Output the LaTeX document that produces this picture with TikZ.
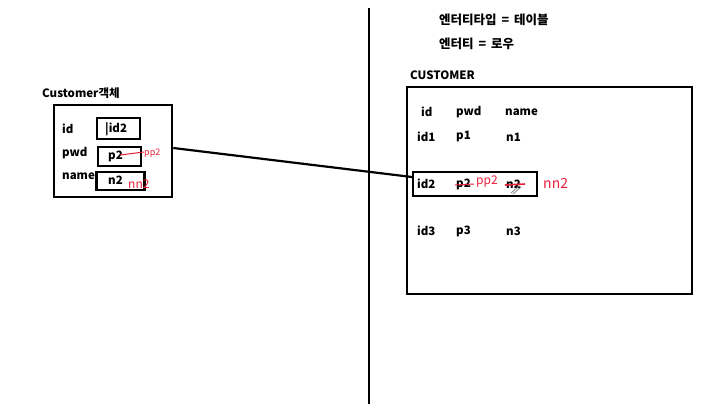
\documentclass[tikz,border=0pt]{standalone}
\usepackage{fontspec}
\setmainfont{Noto Sans CJK KR}
\usetikzlibrary{positioning,calc}
\definecolor{Ink}{HTML}{000000}
\definecolor{Pen}{HTML}{E8203A}
\begin{document}
\begin{tikzpicture}[
  x=1pt,y=-1pt,
  frame/.style={draw=Ink,line width=2.6pt},
  cell/.style={draw=Ink,line width=2.2pt,minimum width=43pt,minimum height=20pt,inner sep=0pt},
  field/.style={anchor=west,inner sep=0pt,font=\fontsize{11.5}{13}\selectfont\bfseries},
  title/.style={anchor=west,inner sep=0pt,font=\fontsize{11.5}{13}\selectfont\bfseries},
  scrawl/.style={anchor=west,inner sep=0pt,text=Pen,font=\fontsize{12}{13}\selectfont\itshape},
  strike/.style={draw=Pen,line width=1pt}
]
\useasboundingbox (0,0) rectangle (711,404);
% divider between object side and table side
\coordinate (divtop) at (369,8);
\coordinate (divbot) at (369,404);
\draw[line width=2.4pt] (divtop)--(divbot);
\node[title,font=\fontsize{12.5}{14}\selectfont\bfseries] (kind) at (439,20) {엔터티타입 \,=\, 테이블};
\node[title,font=\fontsize{12.5}{14}\selectfont\bfseries] (ent) at (439,44) {엔터티 \,=\, 로우};
% object side
\node[title] (objname) at (42,93) {Customer객체};
\node[frame,minimum width=118pt,minimum height=92pt,inner sep=0pt] (obj) at (113,151) {};
\node[field] (fid) at (62,129) {id};
\node[field] (fpwd) at (62,153) {pwd};
\node[field] (fname) at (62,176) {name};
\node[cell,minimum height=21pt] (vid) at (118.5,128.5) {};
\node[field] at (105,129) {|id2};
\node[cell,minimum height=19pt] (vpwd) at (119.5,156.5) {};
\node[field] (vp2) at (108,156) {p2};
\node[cell,minimum width=48pt,minimum height=18pt] (vname) at (120.5,181) {};
\node[field] (vn2) at (108,180) {n2};
\draw[strike] (120,155)--(144,152);
\node[scrawl,font=\fontsize{9}{10}\selectfont\itshape] at (144,153) {pp2};
\node[scrawl] at (128,184) {nn2};
% table side
\node[title] (tname) at (410,75) {CUSTOMER};
\node[frame,minimum width=285pt,minimum height=207pt,inner sep=0pt] (tbl) at (549.5,190.5) {};
\node[field] (hid) at (421,112) {id};
\node[field] (hpwd) at (456,112) {pwd};
\node[field] (hname) at (505,112) {name};
\node[field] (r1id) at (417,137) {id1};
\node[field] (r1pwd) at (456,137) {p1};
\node[field] (r1name) at (506,137) {n1};
\node[cell,minimum width=124pt,minimum height=24pt] (row) at (475,184) {};
\node[field] (r2id) at (417,184) {id2};
\node[field] (r2pwd) at (456,184) {p2};
\node[field] (r2name) at (506,184) {n2};
\draw[strike] (455,185)--(474,184);
\draw[strike,line width=1.6pt] (505,185)--(525,184);
\draw[gray,line width=.8pt] (511,193)--(519,186) (513,194)--(521,187);
\node[scrawl] at (476,182) {pp2};
\node[scrawl,font=\fontsize{14}{15}\selectfont\itshape] at (543,183) {nn2};
\node[field] (r3id) at (417,231) {id3};
\node[field] (r3pwd) at (456,231) {p3};
\node[field] (r3name) at (506,231) {n3};
% object maps onto one row
\draw[line width=2.2pt] ([yshift=3pt]obj.east)--([yshift=7pt]row.west);
\end{tikzpicture}
\end{document}
